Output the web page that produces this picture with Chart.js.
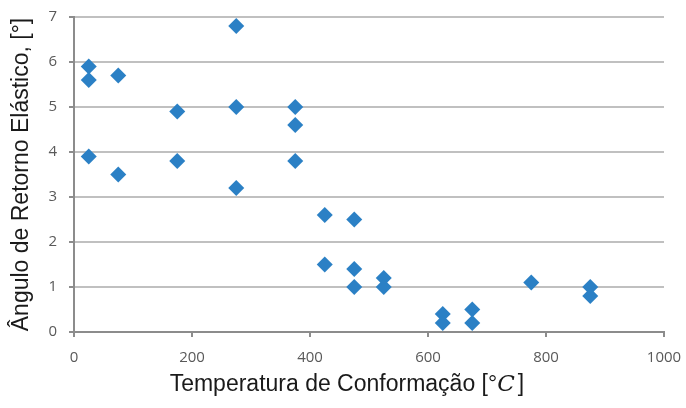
<!DOCTYPE html>
<html>
<head>
<meta charset="utf-8">
<script src="https://cdn.jsdelivr.net/npm/chart.js@4.4.0/dist/chart.umd.min.js"></script>
<style>
  html, body { margin: 0; padding: 0; background: #ffffff; }
  #wrap { width: 686px; height: 408px; position: relative; }
</style>
</head>
<body>
<div id="wrap"><canvas id="springback"></canvas></div>
<script>
// Temperatura de conformação (°C) e ângulo de retorno elástico (°) medidos
const temperatures = [25, 25, 25, 75, 75, 175, 175, 275, 275, 275, 375, 375, 375,
    425, 425, 475, 475, 475, 525, 525, 625, 625, 675, 675, 775, 875, 875];
const angles = [5.9, 5.6, 3.9, 5.7, 3.5, 4.9, 3.8, 6.8, 5.0, 3.2, 5.0, 4.6, 3.8,
    2.6, 1.5, 2.5, 1.4, 1.0, 1.2, 1.0, 0.4, 0.2, 0.5, 0.2, 1.1, 1.0, 0.8];
const xTicks = [0, 200, 400, 600, 800, 1000];
const yTicks = [0, 1, 2, 3, 4, 5, 6, 7];

const points = temperatures.map((t, i) => ({ x: t, y: angles[i] }));

const tickFont = { family: 'Open Sans', size: 15 };
const titleFont = { family: 'Liberation Sans', size: 23 };

// Título do eixo x desenhado à mão para deixar o "C" da unidade em itálico
const xTitlePlugin = {
    id: 'xTitle',
    afterDraw(chart) {
        const { ctx, chartArea } = chart;
        const parts = [
            { text: 'Temperatura de Conformação [°', font: '23px "Liberation Sans"' },
            { text: 'C', font: 'italic 23px "DejaVu Serif"' },
            { text: ']', font: '23px "Liberation Sans"' }
        ];
        ctx.save();
        let total = 0;
        parts.forEach(p => { ctx.font = p.font; p.w = ctx.measureText(p.text).width; total += p.w; });
        let x = chartArea.left + chartArea.width * 0.46 - total / 2;
        const y = chartArea.bottom + 53;
        ctx.fillStyle = '#1a1a1a';
        ctx.textBaseline = 'middle';
        ctx.textAlign = 'left';
        parts.forEach(p => { ctx.font = p.font; ctx.fillText(p.text, x, y); x += p.w + (p.text === 'C' ? 3 : 0); });
        ctx.restore();
    }
};

new Chart(document.getElementById('springback'), {
    type: 'scatter',
    data: {
        datasets: [{
            data: points,
            pointStyle: 'rectRot',
            pointRadius: 8,
            pointHoverRadius: 8,
            backgroundColor: '#2B80C5',
            borderColor: '#2B80C5',
            borderWidth: 0
        }]
    },
    options: {
        responsive: true,
        maintainAspectRatio: false,
        animation: false,
        layout: { padding: { top: 17, right: 22, left: 0, bottom: 0 } },
        plugins: {
            legend: { display: false },
            tooltip: { enabled: false }
        },
        scales: {
            x: {
                type: 'linear',
                min: 0,
                max: 1000,
                afterBuildTicks: axis => { axis.ticks = xTicks.map(v => ({ value: v })); },
                afterFit: axis => {
                    axis.height = 76;
                    axis.paddingLeft = 0;
                    axis.paddingRight = 0;
                },
                grid: {
                    drawOnChartArea: false,
                    drawTicks: true,
                    tickLength: 5,
                    tickColor: '#8c8c8c',
                    lineWidth: 2
                },
                border: { color: '#8c8c8c', width: 2 },
                ticks: {
                    color: '#595959',
                    font: tickFont,
                    padding: 12,
                    maxRotation: 0,
                    callback: v => String(v)
                },
                title: { display: false }
            },
            y: {
                type: 'linear',
                min: 0,
                max: 7,
                afterBuildTicks: axis => { axis.ticks = yTicks.map(v => ({ value: v })); },
                afterFit: axis => {
                    axis.width = 74;
                    axis.paddingTop = 0;
                    axis.paddingBottom = 0;
                },
                grid: {
                    color: '#c0c0c0',
                    lineWidth: 2,
                    drawTicks: true,
                    tickLength: 5,
                    tickColor: '#8c8c8c'
                },
                border: { color: '#8c8c8c', width: 2 },
                ticks: { color: '#595959', font: tickFont, padding: 12 },
                title: {
                    display: true,
                    text: 'Ângulo de Retorno Elástico, [°]',
                    color: '#1a1a1a',
                    font: titleFont,
                    padding: { top: 8, bottom: 0 }
                }
            }
        }
    },
    plugins: [xTitlePlugin]
});
</script>
</body>
</html>
